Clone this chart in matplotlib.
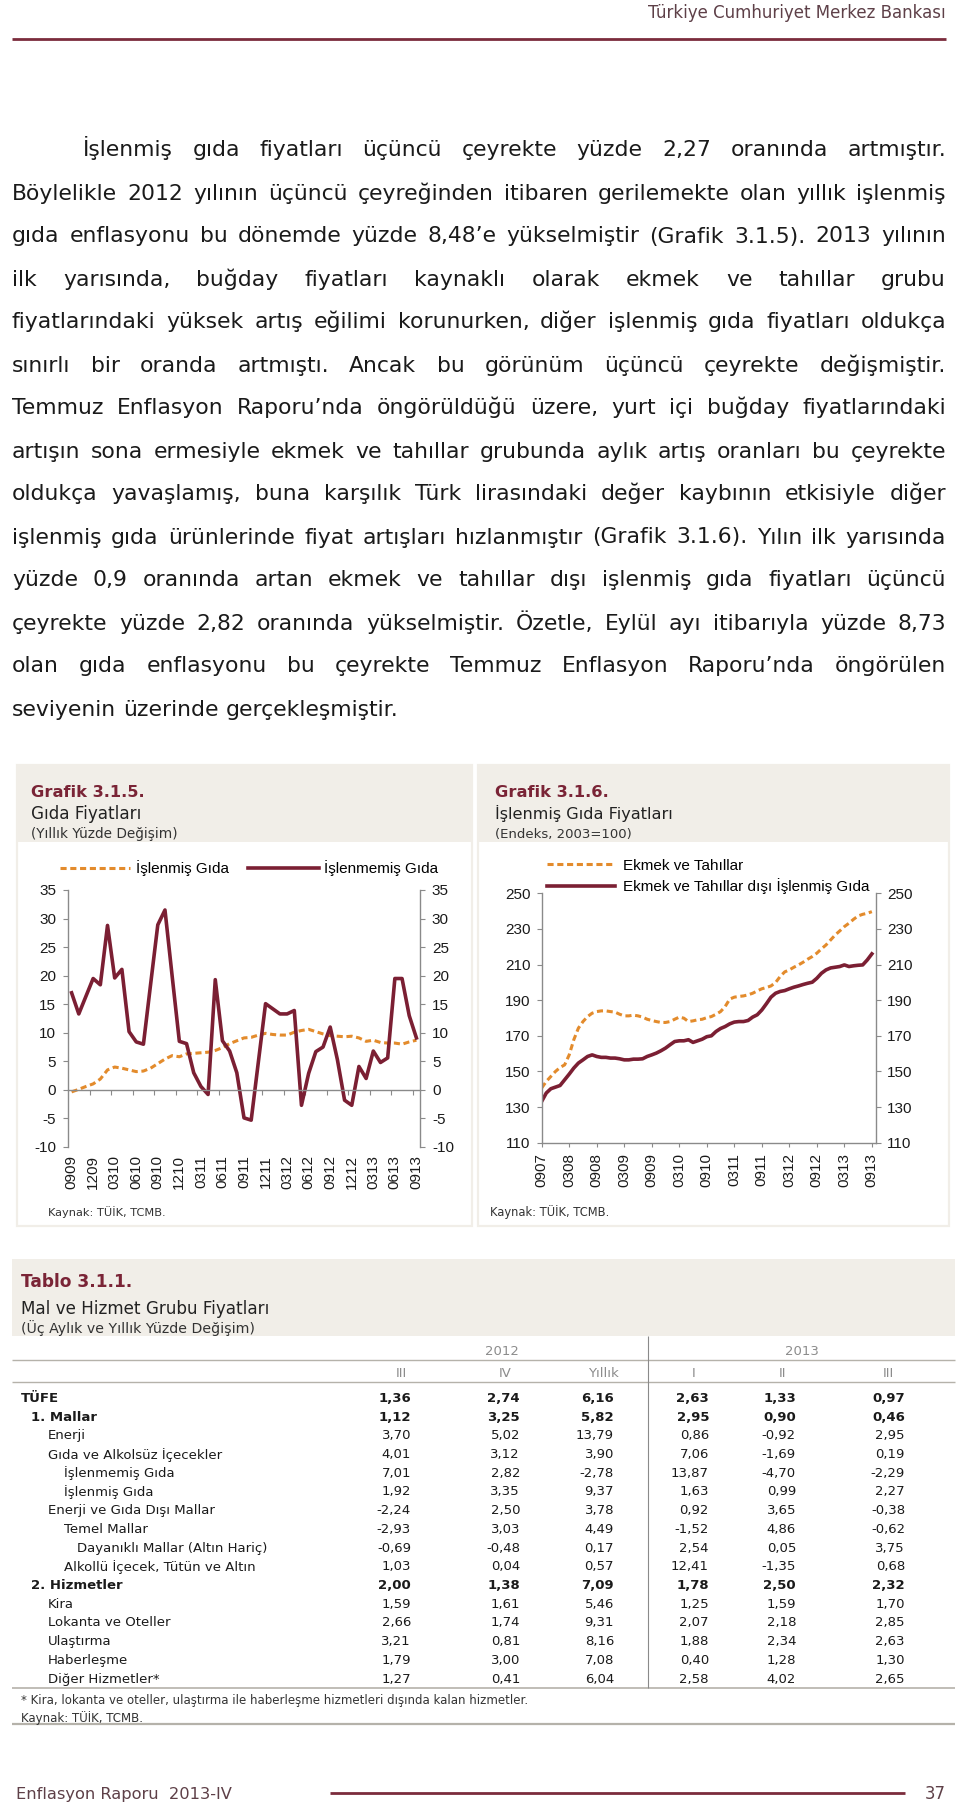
import numpy as np
import matplotlib
matplotlib.use('Agg')
import matplotlib.pyplot as plt
from matplotlib.patches import Rectangle

plt.rcParams['font.family'] = ['Liberation Sans', 'DejaVu Sans']
plt.rcParams['axes.unicode_minus'] = False

# ---------------------------------------------------------------- data
header_text = "Türkiye Cumhuriyet Merkez Bankası"
footer_text = "Enflasyon Raporu  2013-IV"
page_number = "37"

para_lines = [
    "İşlenmiş gıda fiyatları üçüncü çeyrekte yüzde 2,27 oranında artmıştır.",
    "Böylelikle 2012 yılının üçüncü çeyreğinden itibaren gerilemekte olan yıllık işlenmiş",
    "gıda enflasyonu bu dönemde yüzde 8,48’e yükselmiştir (Grafik 3.1.5). 2013 yılının",
    "ilk yarısında, buğday fiyatları kaynaklı olarak ekmek ve tahıllar grubu",
    "fiyatlarındaki yüksek artış eğilimi korunurken, diğer  işlenmiş gıda fiyatları oldukça",
    "sınırlı bir oranda artmıştı. Ancak bu görünüm üçüncü çeyrekte değişmiştir.",
    "Temmuz Enflasyon Raporu’nda öngörüldüğü üzere, yurt içi buğday fiyatlarındaki",
    "artışın sona ermesiyle ekmek ve tahıllar grubunda aylık artış oranları bu çeyrekte",
    "oldukça yavaşlamış, buna karşılık Türk lirasındaki değer kaybının etkisiyle diğer",
    "işlenmiş gıda ürünlerinde fiyat artışları hızlanmıştır (Grafik 3.1.6). Yılın ilk yarısında",
    "yüzde 0,9 oranında artan ekmek ve tahıllar dışı işlenmiş gıda fiyatları üçüncü",
    "çeyrekte yüzde 2,82 oranında yükselmiştir. Özetle, Eylül ayı itibarıyla yüzde 8,73",
    "olan gıda enflasyonu bu çeyrekte Temmuz Enflasyon Raporu’nda öngörülen",
    "seviyenin üzerinde gerçekleşmiştir.",
]

# Grafik 3.1.5 (monthly, 2009-09 .. 2013-09)
chart1_title = ["Grafik 3.1.5.", "Gıda Fiyatları", "(Yıllık Yüzde Değişim)"]
chart1_labels = ["0909", "1209", "0310", "0610", "0910", "1210", "0311", "0611", "0911",
                 "1211", "0312", "0612", "0912", "1212", "0313", "0613", "0913"]
islenmis_gida = [-0.35, 0.1, 0.6, 1.05, 1.9, 3.5, 4.0, 3.8, 3.5, 3.2,
                 3.3, 3.8, 4.6, 5.4, 6.0, 5.8, 6.3, 6.4, 6.5, 6.6,
                 6.9, 7.4, 8.1, 8.6, 9.1, 9.2, 9.6, 9.9, 9.7, 9.6,
                 9.6, 10.1, 10.4, 10.6, 10.2, 9.8, 9.5, 9.4, 9.3, 9.4,
                 9.1, 8.5, 8.7, 8.3, 8.2, 8.2, 8.0, 8.4, 8.7]
islenmemis_gida = [17.0, 13.3, 16.4, 19.5, 18.4, 28.8, 19.6, 21.1, 10.2, 8.4,
                   8.0, 18.5, 28.9, 31.5, 19.9, 8.5, 8.1, 3.0, 0.6, -0.8,
                   19.3, 8.6, 6.8, 3.0, -4.9, -5.3, 4.9, 15.1, 14.2, 13.3,
                   13.3, 13.9, -2.7, 2.9, 6.7, 7.5, 11.0, 5.3, -1.8, -2.7,
                   4.1, 2.0, 6.8, 4.8, 5.6, 19.5, 19.5, 13.0, 9.1]
chart1_series = ["İşlenmiş Gıda", "İşlenmemiş Gıda"]

# Grafik 3.1.6 (monthly, 2007-09 .. 2013-09)
chart2_title = ["Grafik 3.1.6.", "İşlenmiş Gıda Fiyatları", "(Endeks, 2003=100)"]
chart2_labels = ["0907", "0308", "0908", "0309", "0909", "0310", "0910",
                 "0311", "0911", "0312", "0912", "0313", "0913"]
ekmek_tahillar = [140.7, 144.4, 147.2, 150.0, 152.2, 153.7, 159.3, 167.8, 174.3, 178.0,
                  180.8, 182.7, 183.6, 184.0, 184.0, 183.6, 183.3, 182.1, 181.2, 181.2,
                  181.6, 181.2, 180.5, 179.3, 178.6, 178.0, 177.5, 177.5, 178.0, 179.3,
                  180.5, 179.9, 178.0, 178.4, 179.0, 179.3,
                  180.2, 180.8, 182.1, 183.6, 186.4, 190.6, 191.7, 192.1, 192.4, 193.0,
                  193.9, 195.2, 196.4, 197.1, 198.0, 199.9, 203.3, 205.9, 207.0, 208.5,
                  209.8, 211.3, 213.0, 214.5, 216.4, 218.8, 221.0, 223.8, 226.6, 228.9,
                  231.3, 233.2, 235.4, 237.3, 238.2, 238.8, 239.7]
ekmek_disi = [133.2, 137.9, 140.3, 141.2, 142.1, 145.3, 148.5, 151.9, 154.7, 156.5,
              158.4, 159.3, 158.4, 157.9, 157.9, 157.5, 157.5, 157.1, 156.5, 156.5,
              156.9, 156.9, 157.1, 158.4, 159.3, 160.3, 161.6, 163.1, 165.0, 166.8,
              167.2, 167.2, 167.8, 166.3, 167.2, 168.1,
              169.5, 170.0, 172.4, 174.1, 175.2, 176.7, 177.7, 178.0, 178.0, 178.6,
              180.5, 181.8, 184.5, 188.0, 191.7, 193.9, 194.9, 195.4, 196.4, 197.3,
              198.0, 198.8, 199.5, 200.1, 202.3, 205.1, 207.0, 208.1, 208.5, 208.9,
              209.8, 208.9, 209.3, 209.6, 209.8, 212.6, 216.0]
chart2_series = ["Ekmek ve Tahıllar", "Ekmek ve Tahıllar dışı İşlenmiş Gıda"]
source_text = "Kaynak: TÜİK, TCMB."

# Tablo 3.1.1
table_title = ["Tablo 3.1.1.", "Mal ve Hizmet Grubu Fiyatları", "(Üç Aylık ve Yıllık Yüzde Değişim)"]
table_years = ["2012", "2013"]
table_cols = ["III", "IV", "Yıllık", "I", "II", "III"]
table_rows = ["TÜFE", "1. Mallar", "Enerji", "Gıda ve Alkolsüz İçecekler", "İşlenmemiş Gıda",
              "İşlenmiş Gıda", "Enerji ve Gıda Dışı Mallar", "Temel Mallar",
              "Dayanıklı Mallar (Altın Hariç)", "Alkollü İçecek, Tütün ve Altın", "2. Hizmetler",
              "Kira", "Lokanta ve Oteller", "Ulaştırma", "Haberleşme", "Diğer Hizmetler*"]
table_level = [0, 1, 2, 2, 3, 3, 2, 3, 4, 3, 1, 2, 2, 2, 2, 2]
table_bold = [True, True, False, False, False, False, False, False, False, False, True,
              False, False, False, False, False]
q3_2012 = [1.36, 1.12, 3.70, 4.01, 7.01, 1.92, -2.24, -2.93, -0.69, 1.03, 2.00, 1.59, 2.66, 3.21, 1.79, 1.27]
q4_2012 = [2.74, 3.25, 5.02, 3.12, 2.82, 3.35, 2.50, 3.03, -0.48, 0.04, 1.38, 1.61, 1.74, 0.81, 3.00, 0.41]
yil_2012 = [6.16, 5.82, 13.79, 3.90, -2.78, 9.37, 3.78, 4.49, 0.17, 0.57, 7.09, 5.46, 9.31, 8.16, 7.08, 6.04]
q1_2013 = [2.63, 2.95, 0.86, 7.06, 13.87, 1.63, 0.92, -1.52, 2.54, 12.41, 1.78, 1.25, 2.07, 1.88, 0.40, 2.58]
q2_2013 = [1.33, 0.90, -0.92, -1.69, -4.70, 0.99, 3.65, 4.86, 0.05, -1.35, 2.50, 1.59, 2.18, 2.34, 1.28, 4.02]
q3_2013 = [0.97, 0.46, 2.95, 0.19, -2.29, 2.27, -0.38, -0.62, 3.75, 0.68, 2.32, 1.70, 2.85, 2.63, 1.30, 2.65]
table_note = "* Kira, lokanta ve oteller, ulaştırma ile haberleşme hizmetleri dışında kalan hizmetler."

# ---------------------------------------------------------------- style
BODY = 'DejaVu Sans'
MAROON = '#7B1F33'
ORANGE = '#E38B2C'
TITLE_RED = '#7A2436'
BEIGE = '#F1EEE8'
AXGRAY = '#8A8A8A'
TXT = '#1A1A1A'
W, H = 960, 1805

fig = plt.figure(figsize=(W / 100, H / 100), dpi=100)
fig.patch.set_facecolor('white')
ov = fig.add_axes([0, 0, 1, 1])
ov.set_xlim(0, W)
ov.set_ylim(H, 0)
ov.set_axis_off()
R = fig.canvas.get_renderer()


def put(x, y, s, size=10, family=BODY, weight='normal', color=TXT, ha='left',
        va='baseline', width=None):
    t = ov.text(x, y, s, fontsize=size, family=family, weight=weight, color=color,
                ha=ha, va=va)
    if width:
        w = t.get_window_extent(R).width
        t.set_fontsize(size * width / w)
    return t


def measure(s, size, family=BODY, weight='normal'):
    t = ov.text(0, 0, s, fontsize=size, family=family, weight=weight)
    w = t.get_window_extent(R).width
    t.remove()
    return w


def hline(y, x0, x1, color, lw):
    ov.plot([x0, x1], [y, y], color=color, lw=lw, solid_capstyle='butt')


def vline(x, y0, y1, color, lw):
    ov.plot([x, x], [y0, y1], color=color, lw=lw, solid_capstyle='butt')


def rect(x0, y0, x1, y1, fc='none', ec='none', lw=0):
    ov.add_patch(Rectangle((x0, y0), x1 - x0, y1 - y0, facecolor=fc, edgecolor=ec, lw=lw))


# ---------------------------------------------------------------- page header / footer
put(946, 17.5, header_text, size=12, ha='right', color='#5E4048', width=298)
hline(39, 12, 946, '#7B2C3C', 2.0)

put(16, 1799, footer_text, size=12, color='#5E4048', width=215)
hline(1793, 330, 905, '#7B2C3C', 2.0)
put(946, 1799, page_number, size=12, ha='right', color='#5E4048', width=21)

# ---------------------------------------------------------------- body paragraph (justified)
left_first, left, right = 83, 12, 946
base = 10
nat = [measure(l, base) for l in para_lines]
avail = [right - left_first] + [right - left] * (len(para_lines) - 1)
ratio = max(n / a for n, a in zip(nat[:-1], avail[:-1]))
bsize = base / ratio * 0.975
space_w = measure('a a', bsize) - measure('aa', bsize)
for i, line in enumerate(para_lines):
    y = 156.5 + 43.0 * i
    x0 = left_first if i == 0 else left
    words = line.split()
    ws = [measure(w, bsize) for w in words]
    if i == len(para_lines) - 1:
        gap = space_w
    else:
        gap = (right - x0 - sum(ws)) / (len(words) - 1)
    x = x0
    for w, ww in zip(words, ws):
        put(x, y, w, size=bsize)
        x += ww + gap

# ---------------------------------------------------------------- chart panels
for (px0, px1, ttl) in [(17, 472, chart1_title), (478, 949, chart2_title)]:
    rect(px0, 765, px1, 1226, fc='white', ec=BEIGE, lw=1.6)
    rect(px0, 765, px1, 842, fc=BEIGE)
    tx = px0 + 14 if px0 < 100 else px0 + 17
    put(tx, 797, ttl[0], size=11, weight='bold', color=TITLE_RED,
        width=113)
    put(tx, 819, ttl[1], size=11, color='#222222',
        width=110 if px0 < 100 else 178)
    put(tx, 838, ttl[2], size=9.5, color='#333333',
        width=147 if px0 < 100 else 137)
put(48, 1212, source_text, size=9, va='center', color='#333333', width=118)
put(490, 1212, source_text, size=9, va='center', color='#333333', width=120)


def ax_rect(l, t, r, b):
    return [l / W, 1 - b / H, (r - l) / W, (b - t) / H]


dash = (0, (2.0, 1.2))

# --- Grafik 3.1.5
ax1 = fig.add_axes(ax_rect(68, 890, 420, 1147))
ax1.patch.set_alpha(0)
x1 = np.arange(len(islenmis_gida))
h1, = ax1.plot(x1, islenmis_gida, color=ORANGE, lw=2.2, ls=dash, label=chart1_series[0])
h2, = ax1.plot(x1, islenmemis_gida, color=MAROON, lw=2.6, label=chart1_series[1])
ax1.set_xlim(-0.5, len(islenmis_gida) - 0.5)
ax1.set_ylim(-10, 35)
ax1.set_yticks(np.arange(-10, 36, 5))
ax1.spines['top'].set_visible(False)
ax1.spines['bottom'].set_position(('data', 0))
for s in ['left', 'right', 'bottom']:
    ax1.spines[s].set_color(AXGRAY)
    ax1.spines[s].set_linewidth(1.0)
ax1.set_xticks(np.arange(2.5, len(islenmis_gida) - 1, 3))
ax1.tick_params(axis='x', direction='out', length=3.6, color=AXGRAY, labelbottom=False)
ax1.yaxis.set_ticks_position('both')
ax1.tick_params(axis='y', direction='out', length=3.6, color=AXGRAY, pad=5,
                labelsize=11, labelleft=True, labelright=True, labelcolor=TXT)
sec1 = ax1.secondary_xaxis('bottom')
sec1.set_xticks(np.arange(0, len(islenmis_gida), 3), labels=chart1_labels)
sec1.tick_params(length=0, pad=5.8, labelsize=11, labelrotation=90, labelcolor=TXT)
sec1.spines['bottom'].set_visible(False)

fig.legend(handles=[h1, h2], loc='center left', bbox_to_anchor=(60 / W, 1 - 868 / H),
           ncol=2, frameon=False, handlelength=4.6, handletextpad=0.35,
           columnspacing=1.3, borderpad=0, borderaxespad=0, fontsize=11)

# --- Grafik 3.1.6
ax2 = fig.add_axes(ax_rect(541.7, 893.3, 876, 1142.7))
ax2.patch.set_alpha(0)
x2 = np.arange(len(ekmek_tahillar))
g1, = ax2.plot(x2, ekmek_tahillar, color=ORANGE, lw=2.2, ls=dash, label=chart2_series[0])
g2, = ax2.plot(x2, ekmek_disi, color=MAROON, lw=2.6, label=chart2_series[1])
ax2.set_xlim(0, 72.9)
ax2.set_ylim(110, 250)
ax2.set_yticks(np.arange(110, 251, 20))
ax2.set_xticks(np.arange(0, len(ekmek_tahillar), 6), labels=chart2_labels)
ax2.spines['top'].set_visible(False)
for s in ['left', 'right', 'bottom']:
    ax2.spines[s].set_color(AXGRAY)
    ax2.spines[s].set_linewidth(1.0)
ax2.tick_params(axis='x', direction='out', length=3.2, color=AXGRAY, pad=4.5,
                labelsize=11, labelrotation=90, labelcolor=TXT)
ax2.yaxis.set_ticks_position('both')
ax2.tick_params(axis='y', direction='out', length=3.6, color=AXGRAY, pad=4.5,
                labelsize=11, labelleft=True, labelright=True, labelcolor=TXT)

fig.legend(handles=[g1, g2], loc='center left', bbox_to_anchor=(547 / W, 1 - 876.5 / H),
           ncol=1, frameon=False, handlelength=4.45, handletextpad=0.55,
           labelspacing=0.35, borderpad=0, borderaxespad=0, fontsize=11)

# ---------------------------------------------------------------- table
rect(12, 1259, 955, 1336, fc=BEIGE)
put(21, 1287, table_title[0], size=12, weight='bold', color=TITLE_RED, width=111)
put(21, 1314, table_title[1], size=11, color='#222222', width=248)
put(21, 1333, table_title[2], size=10, color='#333333', width=233)

LINEGRAY = '#B5B2AA'
hline(1360, 12, 955, LINEGRAY, 1.0)
hline(1382, 12, 955, LINEGRAY, 1.0)
hline(1688, 12, 955, LINEGRAY, 1.2)
vline(648, 1336, 1688, '#8A8A8A', 0.8)
hline(1724, 12, 955, LINEGRAY, 1.6)

year_x = [502, 802]
for yx, yr in zip(year_x, table_years):
    put(yx, 1350, yr, size=9.5, ha='center', va='center_baseline', color='#8C8C8C')
col_hdr_x = [401, 505, 603, 694, 783, 888]
for cx, c in zip(col_hdr_x, table_cols):
    put(cx, 1372, c, size=9.5, ha='center', va='center_baseline', color='#8C8C8C')

level_x = [21, 31, 48, 64, 77]
col_right = [411, 520, 614, 709, 796, 905]
columns = [q3_2012, q4_2012, yil_2012, q1_2013, q2_2013, q3_2013]


def fmt(v):
    return f"{v:.2f}".replace('.', ',')


for i, lab in enumerate(table_rows):
    y = 1397 + 18.7 * i
    wt = 'bold' if table_bold[i] else 'normal'
    put(level_x[table_level[i]], y, lab, size=9.5, weight=wt, va='center_baseline')
    for cr, col in zip(col_right, columns):
        put(cr, y, fmt(col[i]), size=9.5, weight=wt, ha='right', va='center_baseline')

put(21, 1699, table_note, size=8.5, va='center_baseline', color='#333333', width=506)
put(21, 1717, source_text, size=8.5, va='center_baseline', color='#333333', width=121)

fig.savefig('out.png', dpi=100, facecolor='white')
